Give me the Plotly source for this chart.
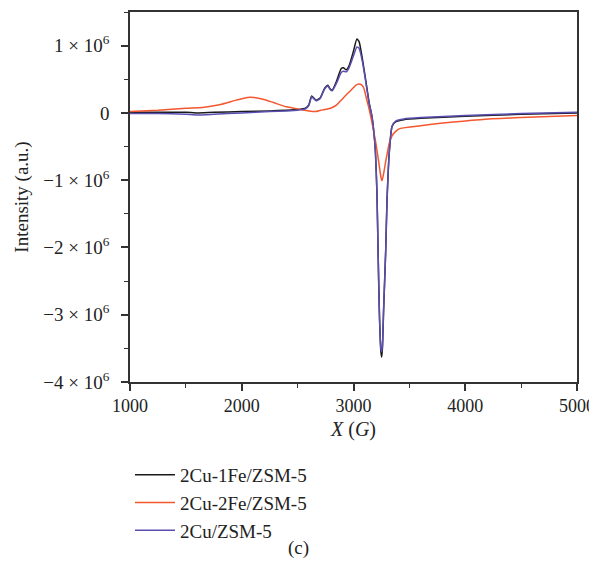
import plotly.graph_objects as go

# field (G) and intensity in units of 1e6 a.u.
x_cu1fe = [1000, 1250, 1500, 1600, 1750, 2000, 2250, 2400, 2500, 2570, 2600, 2625, 2645, 2665,
           2700, 2740, 2770, 2790, 2810, 2850, 2890, 2910, 2935, 2960, 3000, 3030, 3050, 3080,
           3110, 3140, 3165, 3180, 3196, 3210, 3220, 3232, 3245, 3252, 3259, 3270, 3288, 3300,
           3321, 3345, 3380, 3450, 3600, 4000, 4500, 5000]
y_cu1fe = [0.01, 0.01, 0.01, 0.0, 0.01, 0.02, 0.03, 0.04, 0.05, 0.07, 0.12, 0.25, 0.22, 0.19,
           0.22, 0.36, 0.41, 0.36, 0.34, 0.48, 0.66, 0.67, 0.64, 0.70, 0.92, 1.10, 1.06, 0.80,
           0.48, 0.15, -0.05, -0.25, -0.57, -1.2, -2.06, -3.0, -3.55, -3.63, -3.5, -2.9, -2.06, -1.3,
           -0.57, -0.2, -0.13, -0.1, -0.08, -0.05, -0.02, 0.0]

x_cu2fe = [1000, 1250, 1500, 1650, 1800, 1950, 2050, 2110, 2200, 2290, 2400, 2500, 2600, 2660,
           2705, 2795, 2850, 2884, 2930, 2973, 3020, 3047, 3070, 3092, 3115, 3137, 3160, 3180,
           3200, 3225, 3245, 3255, 3270, 3285, 3300, 3320, 3345, 3380, 3420, 3600, 3800, 4134,
           4500, 5000]
y_cu2fe = [0.02, 0.04, 0.07, 0.08, 0.12, 0.19, 0.23, 0.23, 0.2, 0.15, 0.09, 0.06, 0.03, 0.02,
           0.04, 0.07, 0.12, 0.18, 0.26, 0.33, 0.41, 0.43, 0.42, 0.37, 0.22, 0.08, -0.1, -0.27,
           -0.45, -0.72, -0.95, -1.01, -0.9, -0.75, -0.62, -0.45, -0.34, -0.27, -0.23, -0.19, -0.15, -0.1,
           -0.07, -0.04]

x_cu = x_cu1fe
y_cu = [-0.01, -0.01, -0.02, -0.03, -0.02, 0.0, 0.02, 0.03, 0.04, 0.06, 0.11, 0.24, 0.21, 0.18,
        0.21, 0.35, 0.40, 0.35, 0.33, 0.45, 0.60, 0.62, 0.61, 0.67, 0.85, 0.98, 0.96, 0.76,
        0.46, 0.14, -0.05, -0.25, -0.57, -1.2, -2.06, -3.0, -3.5, -3.55, -3.45, -2.9, -2.06, -1.3,
        -0.57, -0.2, -0.12, -0.09, -0.07, -0.04, -0.01, 0.01]

series = [
    ("2Cu-1Fe/ZSM-5", x_cu1fe, y_cu1fe, "#1a1a1a"),
    ("2Cu-2Fe/ZSM-5", x_cu2fe, y_cu2fe, "#f4572e"),
    ("2Cu/ZSM-5", x_cu, y_cu, "#5a4fb0"),
]

y_ticks = [1, 0, -1, -2, -3, -4]
y_ticktext = ["1 × 10<sup>6</sup>", "0", "−1 × 10<sup>6</sup>", "−2 × 10<sup>6</sup>",
              "−3 × 10<sup>6</sup>", "−4 × 10<sup>6</sup>"]

FONT = "Liberation Serif"

fig = go.Figure()
for name, xs, ys, color in series:
    fig.add_trace(go.Scatter(
        x=xs, y=[v * 1e6 for v in ys], mode="lines", name=name,
        line=dict(color=color, width=1.5, shape="spline", smoothing=0.5)
    ))

axis_style = dict(
    showline=True, linecolor="#333333", linewidth=1.5, mirror=True,
    ticks="outside", tickcolor="#333333", tickwidth=1.5, ticklen=7,
    showgrid=False, zeroline=False, automargin=False,
)

fig.update_xaxes(
    range=[1000, 5000], tickvals=[1000, 2000, 3000, 4000, 5000],
    tickfont=dict(family=FONT, size=18, color="#222222"),
    minor=dict(dtick=500, ticks="outside", ticklen=4, tickcolor="#333333", tickwidth=1.2),
    title=dict(text="<i>X</i> (<i>G</i>)", standoff=7,
               font=dict(family=FONT, size=20, color="#222222")),
    **axis_style
)
fig.update_yaxes(
    range=[-4e6, 1.5e6], tickvals=[v * 1e6 for v in y_ticks], ticktext=y_ticktext,
    tickfont=dict(family=FONT, size=19, color="#222222"),
    minor=dict(dtick=0.5e6, ticks="outside", ticklen=4, tickcolor="#333333", tickwidth=1.2),
    ticklabelstandoff=8,
    title=dict(text="Intensity (a.u.)", standoff=10,
               font=dict(family=FONT, size=19, color="#222222")),
    **axis_style
)

fig.add_annotation(
    text="(c)", xref="paper", yref="paper", x=0.376, y=-0.484,
    showarrow=False, font=dict(family=FONT, size=19, color="#222222")
)

# page body adds an 8px offset, so the figure is sized 8px smaller
fig.update_layout(
    width=589, height=573,
    margin=dict(l=122, r=20, t=4, b=199),
    plot_bgcolor="white", paper_bgcolor="white",
    legend=dict(
        x=0.0, y=-0.2, xanchor="left", yanchor="top",
        font=dict(family=FONT, size=19, color="#222222"),
        tracegroupgap=0, itemwidth=40, bgcolor="rgba(0,0,0,0)"
    ),
)

fig.write_html("out.html")
